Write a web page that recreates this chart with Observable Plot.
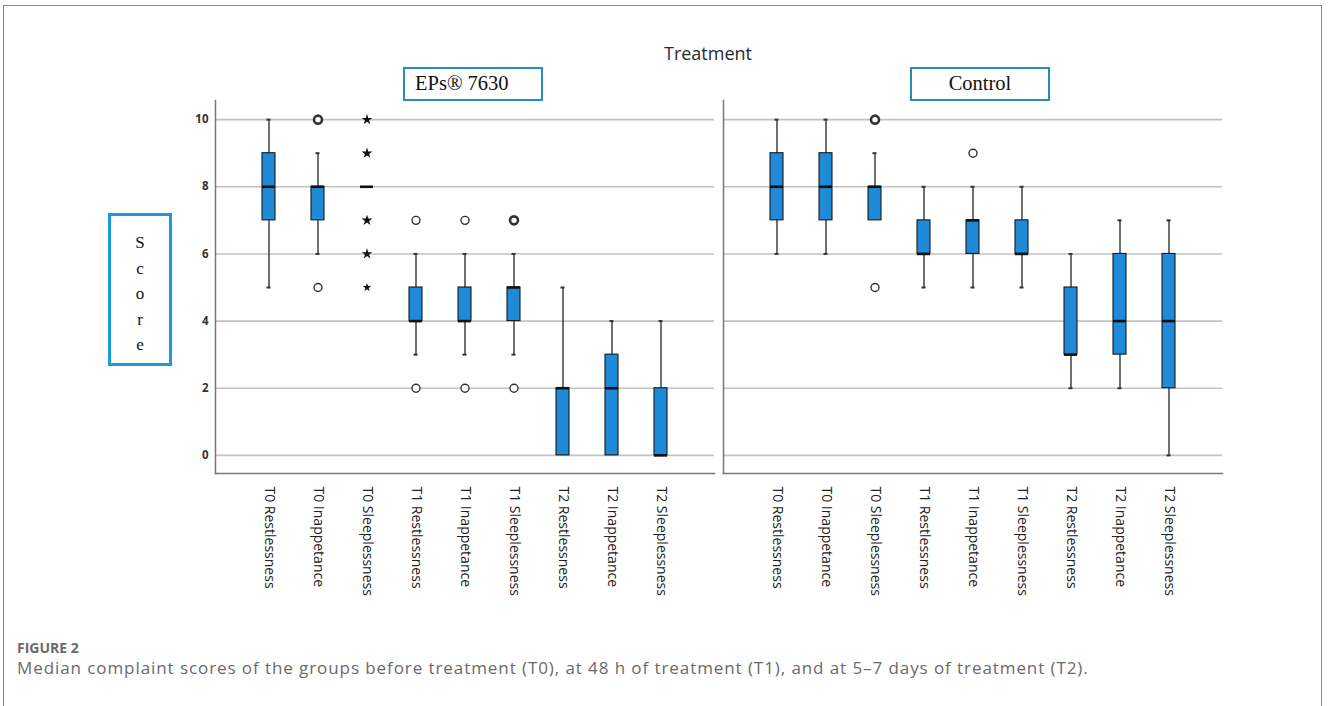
<!DOCTYPE html>
<html>
<head>
<meta charset="utf-8">
<script src="https://cdn.jsdelivr.net/npm/d3@7"></script>
<script src="https://cdn.jsdelivr.net/npm/@observablehq/plot@0.6"></script>
<style>
  html, body { margin: 0; padding: 0; background: #fff; }
  #page { position: relative; width: 1328px; height: 706px; overflow: hidden; }
  #frame { position: absolute; left: 3px; top: 5px; width: 1319px; height: 760px; border: 1px solid #8a8a8a; box-sizing: border-box; }
  #chart { position: absolute; left: 0; top: 0; }
  .facetbox { position: absolute; top: 67px; height: 34px; width: 140px; border: 2px solid #2a8cb8; box-sizing: border-box;
    font-family: "Liberation Serif", "DejaVu Serif", serif; font-size: 20.5px; color: #111; line-height: 29px; background: #fff; }
  #title { position: absolute; left: 0; width: 1416px; top: 41px; text-align: center; font-family: "Open Sans", sans-serif; font-size: 18px; color: #2a2a2a; }
  #ybox { position: absolute; left: 108px; top: 213px; width: 64px; height: 153px; border: 3px solid #1b9bd9; box-sizing: border-box;
    font-family: "Liberation Serif", serif; font-size: 17px; color: #111; text-align: center; padding-top: 14px; line-height: 25.5px; }
  #fig { position: absolute; left: 17px; top: 638px; font-family: "Open Sans", sans-serif; font-size: 14px; font-weight: 700; color: #6a6a6a; }
  #cap { position: absolute; left: 17px; top: 656px; font-family: "Open Sans", sans-serif; font-size: 17px; letter-spacing: 0.92px; color: #6a6a6a; white-space: nowrap; }
</style>
</head>
<body>
<div id="page">
  <div id="frame"></div>
  <div id="chart"></div>
  <div id="title">Treatment</div>
  <div class="facetbox" style="left:403px; padding-left:10px;">EPs® 7630</div>
  <div class="facetbox" style="left:910px; text-align:center;">Control</div>
  <div id="ybox">S<br>c<br>o<br>r<br>e</div>
  <div id="fig">FIGURE 2</div>
  <div id="cap">Median complaint scores of the groups before treatment (T0), at 48 h of treatment (T1), and at 5–7 days of treatment (T2).</div>
</div>
<script>
// ---- data ----
const groups = ["EPs® 7630", "Control"];
const categories = ["T0 Restlessness", "T0 Inappetance", "T0 Sleeplessness",
  "T1 Restlessness", "T1 Inappetance", "T1 Sleeplessness",
  "T2 Restlessness", "T2 Inappetance", "T2 Sleeplessness"];
const yTicks = [0, 2, 4, 6, 8, 10];

// EPs® 7630 box statistics (per category)
const epsMin = [5, 6, 8, 3, 3, 3, 0, 0, 0];
const epsQ1  = [7, 7, 8, 4, 4, 4, 0, 0, 0];
const epsMed = [8, 8, 8, 4, 4, 5, 2, 2, 0];
const epsQ3  = [9, 8, 8, 5, 5, 5, 2, 3, 2];
const epsMax = [10, 9, 8, 6, 6, 6, 5, 4, 4];

// Control box statistics
const ctlMin = [6, 6, 7, 5, 5, 5, 2, 2, 0];
const ctlQ1  = [7, 7, 7, 6, 6, 6, 3, 3, 2];
const ctlMed = [8, 8, 8, 6, 7, 6, 3, 4, 4];
const ctlQ3  = [9, 9, 8, 7, 7, 7, 5, 6, 6];
const ctlMax = [10, 10, 9, 8, 8, 8, 6, 7, 7];

// outliers (circles): group, category, value, repeated (bold)
const outGroup = ["EPs® 7630", "EPs® 7630", "EPs® 7630", "EPs® 7630", "EPs® 7630", "EPs® 7630", "EPs® 7630", "EPs® 7630", "Control", "Control", "Control"];
const outCat   = ["T0 Inappetance", "T0 Inappetance", "T1 Restlessness", "T1 Restlessness", "T1 Inappetance", "T1 Inappetance", "T1 Sleeplessness", "T1 Sleeplessness", "T0 Sleeplessness", "T0 Sleeplessness", "T1 Inappetance"];
const outVal   = [10, 5, 7, 2, 7, 2, 7, 2, 10, 5, 9];
const outBold  = [true, false, false, false, false, false, true, false, true, false, false];

// extreme values (stars)
const extGroup = ["EPs® 7630", "EPs® 7630", "EPs® 7630", "EPs® 7630", "EPs® 7630"];
const extCat   = ["T0 Sleeplessness", "T0 Sleeplessness", "T0 Sleeplessness", "T0 Sleeplessness", "T0 Sleeplessness"];
const extVal   = [10, 9, 7, 6, 5];
const extSize  = [3.4, 3.4, 3.4, 3.4, 2.7];

// ---- tables for the library ----
const boxes = [];
categories.forEach((c, i) => {
  boxes.push({group: groups[0], cat: c, min: epsMin[i], q1: epsQ1[i], med: epsMed[i], q3: epsQ3[i], max: epsMax[i]});
  boxes.push({group: groups[1], cat: c, min: ctlMin[i], q1: ctlQ1[i], med: ctlMed[i], q3: ctlQ3[i], max: ctlMax[i]});
});
const outliers = outVal.map((v, i) => ({group: outGroup[i], cat: outCat[i], value: v, bold: outBold[i]}));
const extremes = extVal.map((v, i) => ({group: extGroup[i], cat: extCat[i], value: v, size: extSize[i]}));

const chart = Plot.plot({
  width: 1328,
  height: 620,
  marginLeft: 215,
  marginRight: 106,
  marginTop: 100,
  marginBottom: 147,
  style: {fontFamily: "Open Sans, sans-serif", background: "transparent"},
  fx: {domain: groups, paddingInner: 0.018, paddingOuter: 0, axis: null, label: null},
  x: {domain: categories, paddingInner: 0.74, paddingOuter: 0.87, label: null},
  y: {domain: [-0.54, 10.57], label: null},
  r: {type: "identity"},
  marks: [
    Plot.ruleY(yTicks, {stroke: "#c2c2c2", strokeWidth: 1.6}),
    Plot.frame({anchor: "left", stroke: "#777", strokeWidth: 1.5}),
    Plot.frame({anchor: "bottom", stroke: "#777", strokeWidth: 1.5}),
    Plot.axisY(yTicks, {tickSize: 0, tickPadding: 7, fontSize: 11.5, fontWeight: 700, fill: "#333", label: null}),
    Plot.axisX({tickRotate: 90, tickSize: 0, tickPadding: 13, fontSize: 14, fill: "#222", label: null, fontFamily: "Open Sans, sans-serif"}),
    Plot.ruleX(boxes, {fx: "group", x: "cat", y1: "min", y2: "max", stroke: "#333", strokeWidth: 1.4}),
    Plot.tickY(boxes.filter(d => d.min < d.q1), {fx: "group", x: "cat", y: "min", stroke: "#333", strokeWidth: 2, insetLeft: 4.5, insetRight: 4.5}),
    Plot.tickY(boxes.filter(d => d.max > d.q3), {fx: "group", x: "cat", y: "max", stroke: "#333", strokeWidth: 2, insetLeft: 4.5, insetRight: 4.5}),
    Plot.barY(boxes.filter(d => d.q3 > d.q1), {fx: "group", x: "cat", y1: "q1", y2: "q3", fill: "#1e8ad8", stroke: "#1a1a1a", strokeWidth: 1.1}),
    Plot.tickY(boxes, {fx: "group", x: "cat", y: "med", stroke: "#111", strokeWidth: 2.6}),
    Plot.dot(outliers, {fx: "group", x: "cat", y: "value", r: 4, fill: "white", stroke: "#333", strokeWidth: d => d.bold ? 2.6 : 1.4}),
    Plot.dot(extremes, {fx: "group", x: "cat", y: "value", symbol: "star", r: "size", fill: "#111", stroke: "none"})
  ]
});
document.getElementById("chart").appendChild(chart);
</script>
</body>
</html>
